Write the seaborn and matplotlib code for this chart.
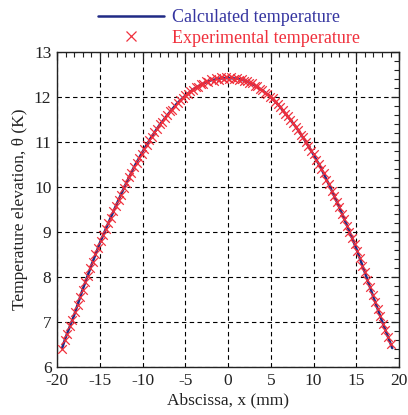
import numpy as np
import pandas as pd
import matplotlib
matplotlib.use("Agg")
import matplotlib.pyplot as plt
import seaborn as sns
from matplotlib.ticker import MultipleLocator
from matplotlib.lines import Line2D

# Calculated temperature
calc_x = [-19.4, -19, -18, -17, -16, -15, -14, -13, -12, -11, -10, -9, -8, -7, -6, -5,
          -4, -3, -2, -1, 0, 1, 2, 3, 4, 5, 6, 7, 8, 9, 10, 11, 12, 13, 14, 15, 16,
          17, 18, 19, 19.2]
calc_y = [6.42, 6.65, 7.15, 7.72, 8.25, 8.75, 9.20, 9.63, 10.05, 10.44, 10.78, 11.10,
          11.38, 11.62, 11.85, 12.03, 12.18, 12.29, 12.37, 12.41, 12.42, 12.41, 12.36,
          12.27, 12.15, 12.00, 11.80, 11.56, 11.32, 11.03, 10.72, 10.37, 9.97, 9.55,
          9.10, 8.63, 8.10, 7.55, 7.02, 6.52, 6.42]

# Experimental temperature
exp_x = [-19.4, -19.1, -18.8, -18.5, -18.2, -17.9, -17.6, -17.3, -17.0, -16.7, -16.4,
         -16.1, -15.8, -15.5, -15.2, -14.9, -14.6, -14.3, -14.0, -13.7, -13.4, -13.1,
         -12.8, -12.5, -12.2, -11.9, -11.6, -11.3, -11.0, -10.7, -10.4, -10.1, -9.8,
         -9.5, -9.2, -8.9, -8.6, -8.3, -8.0, -7.7, -7.4, -7.1, -6.8, -6.5, -6.2, -5.9,
         -5.6, -5.3, -5.0, -4.7, -4.4, -4.1, -3.8, -3.5, -3.2, -2.9, -2.6, -2.3, -2.0,
         -1.7, -1.4, -1.1, -0.8, -0.5, -0.2, 0.1, 0.4, 0.7, 1.0, 1.3, 1.6, 1.9, 2.2,
         2.5, 2.8, 3.1, 3.4, 3.7, 4.0, 4.3, 4.6, 4.9, 5.2, 5.5, 5.8, 6.1, 6.4, 6.7, 7.0,
         7.3, 7.6, 7.9, 8.2, 8.5, 8.8, 9.1, 9.4, 9.7, 10.0, 10.3, 10.6, 10.9, 11.2,
         11.5, 11.8, 12.1, 12.4, 12.7, 13.0, 13.3, 13.6, 13.9, 14.2, 14.5, 14.8, 15.1,
         15.4, 15.7, 16.0, 16.3, 16.6, 16.9, 17.2, 17.5, 17.8, 18.1, 18.4, 18.7, 19.0]
exp_y = [6.40, 6.60, 6.74, 6.92, 7.04, 7.22, 7.37, 7.56, 7.71, 7.89, 8.03, 8.21, 8.34,
         8.51, 8.64, 8.80, 8.94, 9.06, 9.21, 9.32, 9.47, 9.58, 9.72, 9.83, 9.98, 10.08,
         10.22, 10.31, 10.45, 10.53, 10.65, 10.74, 10.85, 10.93, 11.05, 11.12, 11.22,
         11.29, 11.39, 11.44, 11.53, 11.59, 11.68, 11.72, 11.81, 11.86, 11.94, 11.97,
         12.05, 12.06, 12.14, 12.15, 12.22, 12.22, 12.29, 12.28, 12.35, 12.33, 12.39,
         12.36, 12.42, 12.38, 12.44, 12.40, 12.45, 12.39, 12.44, 12.39, 12.43, 12.37,
         12.41, 12.35, 12.36, 12.30, 12.31, 12.25, 12.24, 12.17, 12.16, 12.09, 12.07,
         12.00, 11.97, 11.89, 11.85, 11.77, 11.71, 11.62, 11.57, 11.48, 11.43, 11.33,
         11.27, 11.16, 11.10, 10.99, 10.92, 10.80, 10.73, 10.60, 10.52, 10.39, 10.30,
         10.16, 10.06, 9.92, 9.81, 9.67, 9.56, 9.40, 9.29, 9.14, 9.01, 8.86, 8.73, 8.57,
         8.43, 8.25, 8.11, 7.93, 7.78, 7.60, 7.45, 7.28, 7.13, 6.96, 6.83, 6.66, 6.51]

x_ticks = [-20, -15, -10, -5, 0, 5, 10, 15, 20]
y_ticks = [6, 7, 8, 9, 10, 11, 12, 13]

calc_df = pd.DataFrame({"x": calc_x, "y": calc_y})
exp_df = pd.DataFrame({"x": exp_x, "y": exp_y})

sns.set_theme(style="white")
plt.rcParams["font.family"] = ["Liberation Serif", "DejaVu Serif"]
plt.rcParams["mathtext.fontset"] = "stix"

line_col = "#202a85"
mark_col = "#f0303c"

fig = plt.figure(figsize=(4.08, 4.15), dpi=100)
ax = fig.add_axes([0.1397, 0.1157, 0.8385, 0.759])

sns.lineplot(data=calc_df, x="x", y="y", ax=ax, color=line_col, linewidth=1.8,
             sort=False, zorder=3)
sns.scatterplot(data=exp_df, x="x", y="y", ax=ax, marker="x", color=mark_col,
                s=38, linewidth=0.9, zorder=4)

ax.set_xlim(-20, 20)
ax.set_ylim(6, 13)
ax.set_xticks(x_ticks)
ax.set_yticks(y_ticks)
ax.set_xticklabels([str(v) for v in x_ticks])
ax.set_yticklabels([str(v) for v in y_ticks])
ax.xaxis.set_minor_locator(MultipleLocator(1))
ax.yaxis.set_minor_locator(MultipleLocator(0.2))
ax.tick_params(which="both", direction="in", top=True, right=True, color="#222222",
               labelsize=12.5, labelcolor="#222222")
ax.tick_params(which="major", length=6, width=0.9, pad=4)
ax.tick_params(which="minor", length=3.5, width=0.8)
ax.grid(True, which="major", color="black", linestyle=(0, (4, 3)), linewidth=0.8)
for sp in ax.spines.values():
    sp.set_color("#222222")
    sp.set_linewidth(1.0)

ax.set_xlabel("Abscissa, x (mm)", fontsize=12.5, color="#222222", labelpad=3)
ax.set_ylabel("Temperature elevation, θ (K)", fontsize=12.5, color="#222222", labelpad=4)

handles = [Line2D([], [], color=line_col, linewidth=1.8),
           Line2D([], [], color=mark_col, marker="x", linestyle="none",
                  markersize=7, markeredgewidth=0.9)]
ax.legend(handles, ["Calculated temperature", "Experimental temperature"],
          loc="lower left", bbox_to_anchor=(0.103, 1.0), frameon=False,
          fontsize=13, handlelength=3.7, handletextpad=0.4, borderpad=0,
          borderaxespad=0.3, labelspacing=0.2, labelcolor=["#3535a0", mark_col])

fig.savefig("out.png", dpi=100)
